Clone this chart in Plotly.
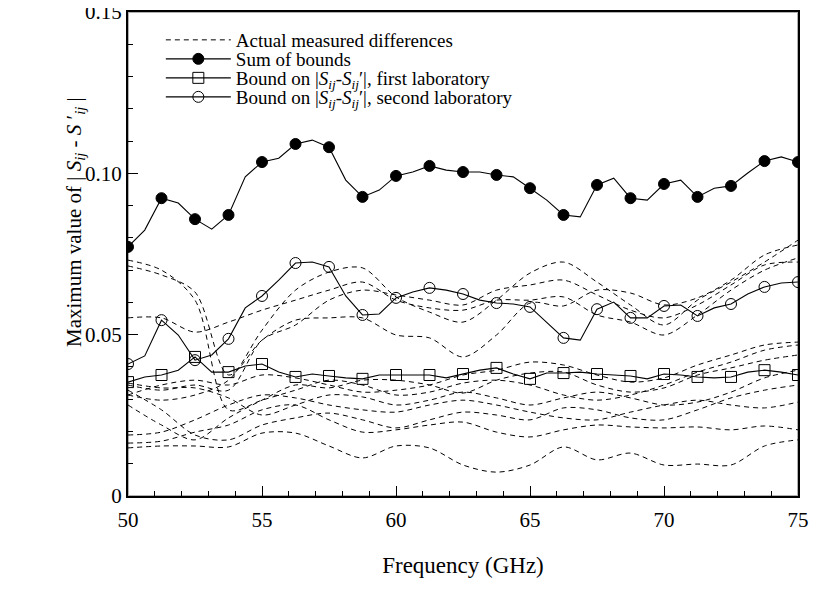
import plotly.graph_objects as go

# ---------------- data ----------------
# fine frequency grid (GHz) for the bound curves, markers every 1.25 GHz
freq = [50.0, 50.625, 51.25, 51.875, 52.5, 53.125, 53.75, 54.375, 55.0, 55.625,
        56.25, 56.875, 57.5, 58.125, 58.75, 59.375, 60.0, 60.625, 61.25, 61.875,
        62.5, 63.125, 63.75, 64.375, 65.0, 65.625, 66.25, 66.875, 67.5, 68.125,
        68.75, 69.375, 70.0, 70.625, 71.25, 71.875, 72.5, 73.125, 73.75, 74.375, 75.0]

sum_bounds = [0.0772, 0.0824, 0.0923, 0.0908, 0.0858, 0.0827, 0.0871, 0.0989, 0.1035, 0.1047,
              0.1091, 0.1103, 0.1081, 0.0979, 0.0927, 0.0948, 0.0992, 0.1004, 0.1023, 0.1010,
              0.1004, 0.1004, 0.0995, 0.0989, 0.0954, 0.0917, 0.0871, 0.0865, 0.0964, 0.0985,
              0.0923, 0.0917, 0.0967, 0.0979, 0.0927, 0.0954, 0.0961, 0.1001, 0.1038, 0.1051, 0.1035]

bound_lab1 = [0.0353, 0.0369, 0.0375, 0.0390, 0.0431, 0.0384, 0.0384, 0.0403, 0.0409, 0.0384,
              0.0369, 0.0378, 0.0372, 0.0366, 0.0363, 0.0375, 0.0375, 0.0375, 0.0375, 0.0366,
              0.0378, 0.0390, 0.0397, 0.0378, 0.0363, 0.0381, 0.0381, 0.0384, 0.0378, 0.0375,
              0.0372, 0.0363, 0.0378, 0.0375, 0.0369, 0.0366, 0.0369, 0.0384, 0.0390, 0.0384, 0.0375]

bound_lab2 = [0.0409, 0.0434, 0.0545, 0.0499, 0.0421, 0.0437, 0.0487, 0.0583, 0.0620, 0.0669,
              0.0722, 0.0725, 0.0710, 0.0620, 0.0561, 0.0564, 0.0614, 0.0632, 0.0645, 0.0638,
              0.0626, 0.0607, 0.0598, 0.0595, 0.0586, 0.0539, 0.0490, 0.0483, 0.0579, 0.0601,
              0.0552, 0.0552, 0.0589, 0.0592, 0.0558, 0.0583, 0.0595, 0.0626, 0.0648, 0.0660, 0.0663]

# coarse grid (GHz) for the measured differences
freq_meas = [50.0, 51.25, 52.5, 53.75, 55.0, 56.25, 57.5, 58.75, 60.0, 61.25, 62.5,
             63.75, 65.0, 66.25, 67.5, 68.75, 70.0, 71.25, 72.5, 73.75, 75.0]

meas_1 = [0.0731, 0.0700, 0.0607, 0.0267, 0.0297, 0.0328, 0.0359, 0.0344, 0.0313, 0.0322, 0.0350,
          0.0359, 0.0344, 0.0313, 0.0297, 0.0313, 0.0344, 0.0384, 0.0415, 0.0452, 0.0468]
meas_2 = [0.0713, 0.0685, 0.0632, 0.0375, 0.0483, 0.0545, 0.0552, 0.0552, 0.0499, 0.0490, 0.0431,
          0.0499, 0.0598, 0.0589, 0.0638, 0.0629, 0.0592, 0.0614, 0.0669, 0.0747, 0.0778]
meas_3 = [0.0552, 0.0552, 0.0508, 0.0539, 0.0576, 0.0607, 0.0638, 0.0663, 0.0607, 0.0583, 0.0576,
          0.0607, 0.0607, 0.0617, 0.0561, 0.0539, 0.0499, 0.0561, 0.0638, 0.0700, 0.0738]
meas_4 = [0.0344, 0.0328, 0.0344, 0.0328, 0.0483, 0.0530, 0.0607, 0.0638, 0.0623, 0.0607, 0.0592,
          0.0638, 0.0654, 0.0669, 0.0623, 0.0576, 0.0552, 0.0592, 0.0654, 0.0716, 0.0725]
meas_5 = [0.0313, 0.0297, 0.0313, 0.0359, 0.0514, 0.0638, 0.0694, 0.0707, 0.0617, 0.0570, 0.0539,
          0.0607, 0.0691, 0.0725, 0.0663, 0.0592, 0.0530, 0.0607, 0.0663, 0.0725, 0.0793]
meas_6 = [0.0149, 0.0155, 0.0155, 0.0152, 0.0195, 0.0195, 0.0155, 0.0118, 0.0155, 0.0149, 0.0096,
          0.0074, 0.0096, 0.0152, 0.0112, 0.0133, 0.0096, 0.0099, 0.0096, 0.0155, 0.0174]
meas_7 = [0.0164, 0.0170, 0.0198, 0.0220, 0.0267, 0.0282, 0.0236, 0.0198, 0.0205, 0.0220, 0.0229,
          0.0198, 0.0183, 0.0205, 0.0220, 0.0214, 0.0211, 0.0214, 0.0205, 0.0217, 0.0205]
meas_8 = [0.0328, 0.0267, 0.0189, 0.0174, 0.0220, 0.0242, 0.0257, 0.0236, 0.0211, 0.0236, 0.0260,
          0.0251, 0.0236, 0.0273, 0.0267, 0.0242, 0.0236, 0.0267, 0.0304, 0.0328, 0.0344]
meas_9 = [0.0350, 0.0335, 0.0335, 0.0304, 0.0251, 0.0282, 0.0313, 0.0307, 0.0282, 0.0297, 0.0322,
          0.0304, 0.0282, 0.0304, 0.0322, 0.0304, 0.0282, 0.0291, 0.0322, 0.0366, 0.0390]
meas_10 = [0.0282, 0.0220, 0.0174, 0.0242, 0.0297, 0.0344, 0.0335, 0.0359, 0.0359, 0.0344, 0.0319,
           0.0359, 0.0381, 0.0384, 0.0344, 0.0322, 0.0335, 0.0375, 0.0397, 0.0421, 0.0437]
meas_11 = [0.0313, 0.0344, 0.0359, 0.0344, 0.0375, 0.0366, 0.0344, 0.0322, 0.0328, 0.0344, 0.0375,
           0.0390, 0.0415, 0.0406, 0.0375, 0.0353, 0.0366, 0.0406, 0.0437, 0.0468, 0.0477]
meas_12 = [0.0189, 0.0198, 0.0236, 0.0282, 0.0313, 0.0304, 0.0282, 0.0267, 0.0260, 0.0282, 0.0297,
           0.0282, 0.0260, 0.0242, 0.0236, 0.0260, 0.0282, 0.0297, 0.0282, 0.0273, 0.0291]

measured = [meas_1, meas_2, meas_3, meas_4, meas_5, meas_6, meas_7, meas_8,
            meas_9, meas_10, meas_11, meas_12]

y_tickvals = [0, 0.05, 0.10, 0.15]
y_ticktext = ["0", "0.05", "0.10", "0.15"]
x_tickvals = [50, 55, 60, 65, 70, 75]

name_meas = "Actual measured differences"
name_sum = "Sum of bounds"
name_lab1 = "Bound on |<i>S</i><sub><i>ij</i></sub>-<i>S</i><sub><i>ij</i></sub>′|, first laboratory"
name_lab2 = "Bound on |<i>S</i><sub><i>ij</i></sub>-<i>S</i><sub><i>ij</i></sub>′|, second laboratory"
y_title = "Maximum value of | <i>S</i><sub><i>ij</i></sub> - <i>S</i> ′<sub><i>ij</i></sub> |"
x_title = "Frequency (GHz)"

# ---------------- figure ----------------
FONT = "Liberation Serif"
fig = go.Figure()

for i, vals in enumerate(measured):
    fig.add_trace(go.Scatter(
        x=freq_meas, y=vals, mode="lines",
        line=dict(color="black", width=1, dash="5px,4px", shape="spline", smoothing=0.9),
        name=name_meas, legendgroup="meas", showlegend=(i == 0), legend="legend",
        hoverinfo="skip"))

def bound_trace(vals, name, symbol, size, legend_id):
    fig.add_trace(go.Scatter(x=freq, y=vals, mode="lines",
                             line=dict(color="black", width=1.1),
                             showlegend=False, hoverinfo="skip"))
    fig.add_trace(go.Scatter(x=freq[::2], y=vals[::2], mode="markers",
                             marker=dict(symbol=symbol, size=size, color="black",
                                         line=dict(color="black", width=1)),
                             showlegend=False, hoverinfo="skip"))
    fig.add_trace(go.Scatter(x=[None], y=[None], mode="lines+markers",
                             line=dict(color="black", width=1.1),
                             marker=dict(symbol=symbol, size=size, color="black",
                                         line=dict(color="black", width=1)),
                             name=name, legend=legend_id))

bound_trace(sum_bounds, name_sum, "circle", 11, "legend2")
bound_trace(bound_lab1, name_lab1, "square-open", 11, "legend3")
bound_trace(bound_lab2, name_lab2, "circle-open", 11, "legend4")

# the page body has an 8px margin; the figure is placed so the plot box sits where the reference has it
W, H = 810, 593
ML, MR, MT, MB = 120, 20, 4, 105
plot_h = H - MT - MB
plot_w = W - ML - MR

def row_y(fig_y):
    return 1 - (fig_y - MT) / plot_h

leg_common = dict(x=0.049, xanchor="left", yanchor="top",
                  bgcolor="rgba(0,0,0,0)", borderwidth=0,
                  font=dict(family=FONT, size=19, color="black"),
                  itemwidth=65, tracegroupgap=0)

ROW_HALF = 13
fig.update_layout(
    template="simple_white",
    width=W, height=H,
    margin=dict(l=ML, r=MR, t=MT, b=MB, autoexpand=False),
    paper_bgcolor="white", plot_bgcolor="white",
    font=dict(family=FONT, size=21, color="black"),
    showlegend=True,
    legend=dict(y=row_y(26 - ROW_HALF), **leg_common),
    legend2=dict(y=row_y(45 - ROW_HALF), **leg_common),
    legend3=dict(y=row_y(64 - ROW_HALF), **leg_common),
    legend4=dict(y=row_y(83 - ROW_HALF), **leg_common),
    annotations=[dict(text=y_title, xref="paper", yref="paper",
                      x=(67 - ML) / plot_w, y=row_y(214), xanchor="center", yanchor="middle",
                      textangle=-90, showarrow=False,
                      font=dict(family=FONT, size=21, color="black"))],
    shapes=[dict(type="rect", xref="paper", yref="paper", x0=0, x1=1, y0=0, y1=1,
                 line=dict(color="black", width=2), fillcolor="rgba(0,0,0,0)", layer="above")],
)

fig.update_xaxes(
    range=[50, 75], tickvals=x_tickvals, ticks="inside", ticklen=10, tickwidth=1,
    tickcolor="black", showline=True, linewidth=2, linecolor="black", mirror=True,
    showgrid=False, zeroline=False, ticklabelstandoff=4, automargin=False,
    ticklabeloverflow="allow",
    minor=dict(dtick=1, ticks="inside", ticklen=5, tickwidth=1, tickcolor="black", showgrid=False),
    title=dict(text=x_title, font=dict(family=FONT, size=23), standoff=26),
    tickfont=dict(family=FONT, size=21),
)
fig.update_yaxes(
    range=[0, 0.15], tickvals=y_tickvals, ticktext=y_ticktext, ticks="inside", ticklen=10,
    tickwidth=1, tickcolor="black", showline=True, linewidth=2, linecolor="black", mirror=True,
    showgrid=False, zeroline=False, automargin=False, ticklabeloverflow="allow",
    minor=dict(dtick=0.01, ticks="inside", ticklen=5, tickwidth=1, tickcolor="black", showgrid=False),
    tickfont=dict(family=FONT, size=21),
)

fig.write_html("out.html")
